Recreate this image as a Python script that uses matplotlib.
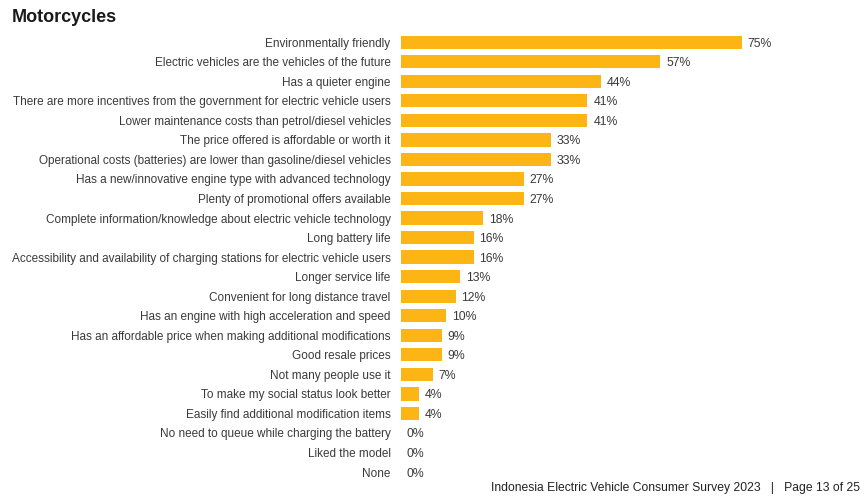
import matplotlib.pyplot as plt
import numpy as np

plt.rcParams['font.family'] = ['Liberation Sans', 'DejaVu Sans']

# reasons for choosing an electric motorcycle, share of respondents (%)
reasons = [
    "Environmentally friendly",
    "Electric vehicles are the vehicles of the future",
    "Has a quieter engine",
    "There are more incentives from the government for electric vehicle users",
    "Lower maintenance costs than petrol/diesel vehicles",
    "The price offered is affordable or worth it",
    "Operational costs (batteries) are lower than gasoline/diesel vehicles",
    "Has a new/innovative engine type with advanced technology",
    "Plenty of promotional offers available",
    "Complete information/knowledge about electric vehicle technology",
    "Long battery life",
    "Accessibility and availability of charging stations for electric vehicle users",
    "Longer service life",
    "Convenient for long distance travel",
    "Has an engine with high acceleration and speed",
    "Has an affordable price when making additional modifications",
    "Good resale prices",
    "Not many people use it",
    "To make my social status look better",
    "Easily find additional modification items",
    "No need to queue while charging the battery",
    "Liked the model",
    "None",
]
pct = [75, 57, 44, 41, 41, 33, 33, 27, 27, 18, 16, 16, 13, 12, 10, 9, 9, 7, 4, 4, 0, 0, 0]

bar_col = '#FDB515'
txt_col = '#3a3a3a'

fig = plt.figure(figsize=(8.66, 4.96), dpi=100)
ax = fig.add_axes([0.463, 0.0286, 0.42, 0.906])

y = np.arange(len(reasons))
ax.barh(y, pct, height=0.68, color=bar_col)
ax.set_ylim(len(reasons) - 0.5, -0.5)
ax.set_xlim(0, 80)

ax.set_yticks(y)
ax.set_yticklabels(reasons, fontsize=8.45, color=txt_col)
ax.tick_params(axis='y', length=0, pad=7.5)
ax.set_xticks([])
for s in ax.spines.values():
    s.set_visible(False)

for yi, v in zip(y, pct):
    ax.text(v + 1.3, yi, f"{v}%", va='center_baseline', ha='left', fontsize=8.8, color=txt_col)

fig.text(0.014, 0.965, "Motorcycles", fontsize=13, fontweight='bold', color='#1a1a1a',
         va='center', ha='left')
fig.text(0.993, 0.016, "Indonesia Electric Vehicle Consumer Survey 2023   |   Page 13 of 25",
         fontsize=8.7, color='#222222', ha='right', va='center')

fig.savefig('out.png', dpi=100)
